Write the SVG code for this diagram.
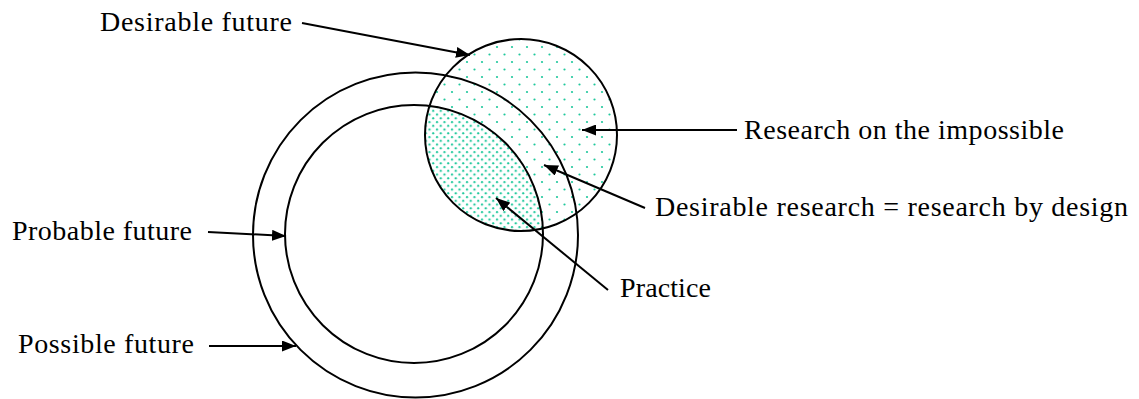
<svg xmlns="http://www.w3.org/2000/svg" width="1139" height="399" viewBox="0 0 1139 399">
<style>
.ring{fill:none;stroke:#000;stroke-width:2}
.lbl{font-family:"Liberation Serif","Times New Roman",serif;font-size:28px;fill:#000}
.con{stroke:#000;stroke-width:2;fill:none}
</style>
<defs>
<pattern id="sparse" width="15" height="15" patternUnits="userSpaceOnUse">
<rect width="15" height="15" fill="#fff"/>
<circle cx="2" cy="2" r="1.1" fill="#1fc89c"/>
<circle cx="9.5" cy="9.5" r="1.1" fill="#1fc89c"/>
</pattern>
<pattern id="dense" width="7.5" height="7.5" patternUnits="userSpaceOnUse">
<rect width="7.5" height="7.5" fill="#fff"/>
<circle cx="2" cy="2" r="1.1" fill="#1fc89c"/>
<circle cx="5.75" cy="5.75" r="1.1" fill="#1fc89c"/>
</pattern>
<clipPath id="desClip"><circle cx="521" cy="135" r="96"/></clipPath>
<marker id="ah" viewBox="0 0 14 11" refX="14" refY="5.5" markerWidth="14" markerHeight="11" markerUnits="userSpaceOnUse" orient="auto">
<path d="M0,0 L14,5.5 L0,11 z" fill="#000"/>
</marker>
</defs>
<rect width="1139" height="399" fill="#fff"/>
<g id="desirable-fill">
<circle cx="521" cy="135" r="96" fill="url(#sparse)"/>
<circle cx="414" cy="234" r="129" fill="url(#dense)" clip-path="url(#desClip)"/>
</g>
<g id="possible-future"><circle class="ring" cx="415.5" cy="235" r="162.5"/></g>
<g id="probable-future"><circle class="ring" cx="414" cy="234" r="129"/></g>
<g id="desirable-future"><circle class="ring" cx="521" cy="135" r="96"/></g>
<g id="connectors">
<line class="con" x1="302" y1="23" x2="470" y2="55" marker-end="url(#ah)"/>
<line class="con" x1="737" y1="130" x2="582" y2="130" marker-end="url(#ah)"/>
<line class="con" x1="645" y1="208" x2="544" y2="165" marker-end="url(#ah)"/>
<line class="con" x1="608" y1="290" x2="496" y2="198" marker-end="url(#ah)"/>
<line class="con" x1="208" y1="232" x2="286" y2="236" marker-end="url(#ah)"/>
<line class="con" x1="209" y1="346" x2="296" y2="346" marker-end="url(#ah)"/>
</g>
<g id="labels">
<text class="lbl" x="100" y="31" textLength="192">Desirable future</text>
<text class="lbl" x="744" y="139" textLength="320">Research on the impossible</text>
<text class="lbl" x="655" y="216" textLength="473">Desirable research = research by design</text>
<text class="lbl" x="12" y="240" textLength="180">Probable future</text>
<text class="lbl" x="18" y="353" textLength="176">Possible future</text>
<text class="lbl" x="620" y="297" textLength="91">Practice</text>
</g>
</svg>
